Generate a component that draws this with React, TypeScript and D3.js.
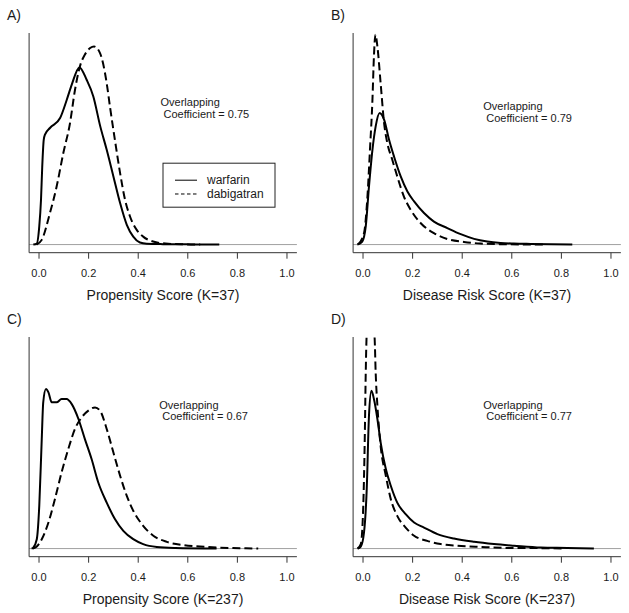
import React from 'react';
import * as d3 from 'd3';

type Pt = [number, number];

const xTicks = [0, 0.2, 0.4, 0.6, 0.8, 1.0];
const seriesNames = ['warfarin', 'dabigatran'];

// Panel A: Propensity Score (K=37)
const psK37Warfarin: Pt[] = [
  [-0.023, 0], [-0.009, 0.05], [0.001, 0.89], [0.008, 2.2], [0.013, 3.84], [0.019, 5.15],
  [0.024, 5.4], [0.044, 5.73], [0.085, 6.22], [0.112, 7.12], [0.132, 7.86], [0.163, 8.71],
  [0.192, 8.1], [0.219, 7.28], [0.247, 5.81], [0.273, 4.66], [0.3, 3.35], [0.327, 2.04],
  [0.354, 0.97], [0.38, 0.39], [0.407, 0.1], [0.434, 0.04], [0.5, 0.02], [0.6, 0.01], [0.727, 0],
];
const psK37Dabigatran: Pt[] = [
  [-0.01, 0], [0.011, 0.23], [0.044, 1.55], [0.071, 2.85], [0.098, 4.5], [0.125, 5.97],
  [0.145, 7.6], [0.165, 8.76], [0.185, 9.34], [0.206, 9.66], [0.222, 9.74], [0.246, 9.41],
  [0.273, 7.93], [0.286, 6.79], [0.306, 5.15], [0.327, 3.51], [0.347, 2.2], [0.367, 1.38],
  [0.394, 0.72], [0.42, 0.39], [0.46, 0.15], [0.51, 0.05], [0.59, 0.01], [0.65, 0],
];

// Panel B: Disease Risk Score (K=37)
const drsK37Warfarin: Pt[] = [
  [-0.023, 0], [-0.003, 0.15], [0.011, 0.89], [0.024, 2.85], [0.038, 4.66], [0.051, 5.81],
  [0.067, 6.47], [0.085, 6.14], [0.105, 5.15], [0.125, 4.33], [0.152, 3.35], [0.179, 2.61],
  [0.206, 2.12], [0.246, 1.55], [0.286, 1.13], [0.34, 0.81], [0.394, 0.51], [0.448, 0.28],
  [0.501, 0.15], [0.555, 0.08], [0.608, 0.05], [0.676, 0.03], [0.844, 0],
];
const drsK37Dabigatran: Pt[] = [
  [-0.02, 0], [0.004, 0.56], [0.017, 2.2], [0.028, 4.66], [0.038, 7.12], [0.044, 9.25],
  [0.05, 10.32], [0.058, 9.74], [0.071, 7.94], [0.085, 5.97], [0.098, 4.99], [0.118, 4.17],
  [0.138, 3.35], [0.165, 2.36], [0.192, 1.71], [0.233, 1.05], [0.286, 0.56], [0.34, 0.27],
  [0.407, 0.13], [0.474, 0.05], [0.555, 0.02], [0.73, 0],
];

// Panel C: Propensity Score (K=237)
const psK237Warfarin: Pt[] = [
  [-0.03, 0], [-0.023, 0.05], [-0.009, 0.46], [0.001, 2.1], [0.011, 5.38], [0.017, 7.19],
  [0.028, 7.84], [0.038, 7.68], [0.051, 7.19], [0.071, 7.19], [0.091, 7.35], [0.111, 7.35],
  [0.132, 7.1], [0.159, 6.37], [0.185, 5.38], [0.212, 4.4], [0.239, 3.25], [0.273, 2.26],
  [0.306, 1.45], [0.34, 0.87], [0.38, 0.46], [0.42, 0.22], [0.475, 0.08], [0.55, 0.03], [0.716, 0],
];
const psK237Dabigatran: Pt[] = [
  [-0.025, 0], [-0.009, 0.1], [0.011, 0.46], [0.038, 1.28], [0.064, 2.43], [0.091, 3.74],
  [0.118, 4.89], [0.145, 5.88], [0.172, 6.45], [0.199, 6.78], [0.226, 6.94], [0.246, 6.78],
  [0.273, 5.88], [0.3, 4.72], [0.327, 3.58], [0.354, 2.59], [0.38, 1.86], [0.42, 1.12],
  [0.461, 0.63], [0.515, 0.33], [0.583, 0.17], [0.649, 0.1], [0.717, 0.05], [0.81, 0.02], [0.884, 0],
];

// Panel D: Disease Risk Score (K=237)
const drsK237Warfarin: Pt[] = [
  [-0.022, 0], [-0.009, 0.1], [0.004, 0.79], [0.015, 2.92], [0.024, 6.53], [0.034, 7.76],
  [0.044, 7.35], [0.058, 6.37], [0.071, 5.22], [0.092, 3.91], [0.112, 3.09], [0.138, 2.26],
  [0.172, 1.69], [0.206, 1.28], [0.246, 1.03], [0.3, 0.71], [0.367, 0.49], [0.448, 0.33],
  [0.528, 0.22], [0.609, 0.14], [0.717, 0.05], [0.824, 0.03], [0.931, 0],
];
const drsK237Dabigatran: Pt[] = [
  [-0.022, 0], [-0.009, 0.22], [0.001, 2.1], [0.007, 5.38], [0.011, 8.66], [0.015, 10.6],
  [0.024, 11.6], [0.038, 11.4], [0.047, 10.3], [0.051, 8.66], [0.058, 7.02], [0.071, 5.05],
  [0.092, 3.58], [0.112, 2.43], [0.138, 1.61], [0.172, 1.03], [0.206, 0.63], [0.259, 0.38],
  [0.313, 0.22], [0.38, 0.14], [0.475, 0.08], [0.582, 0.03], [0.717, 0.02], [0.81, 0],
];

const panelLabels = ['A)', 'B)', 'C)', 'D)'];
const axisTitles = [
  'Propensity Score (K=37)',
  'Disease Risk Score (K=37)',
  'Propensity Score (K=237)',
  'Disease Risk Score (K=237)',
];
const overlapCoefs = [0.75, 0.79, 0.67, 0.77];
// annotation anchor in data coordinates (x, density)
const noteX = [0.49, 0.485, 0.485, 0.485];
const noteY = [6.99, 6.79, 7.07, 7.07];

const warfarinSeries = [psK37Warfarin, drsK37Warfarin, psK237Warfarin, drsK237Warfarin];
const dabigatranSeries = [psK37Dabigatran, drsK37Dabigatran, psK237Dabigatran, drsK237Dabigatran];

const YMAX = 10;
const FONT = "'Liberation Sans', Arial, Helvetica, sans-serif";
const INK = '#1a1a1a';

function Panel({ idx, ox, oy }: { idx: number; ox: number; oy: number }) {
  const x = d3.scaleLinear().domain([-0.04, 1.04]).range([29.1, 296.9]);
  const y = d3.scaleLinear().domain([-0.04 * YMAX, 1.04 * YMAX]).range([252.7, 33]);
  const line = d3
    .line<Pt>()
    .x((d) => x(d[0]))
    .y((d) => y(d[1]))
    .curve(d3.curveMonotoneX);
  const fmt = d3.format('.1f');
  const clipId = `clip-${idx}`;
  const [x0, x1] = x.range();
  const [yb, yt] = y.range();
  const nx = x(noteX[idx]);
  const ny = y(noteY[idx]);
  return (
    <g transform={`translate(${ox},${oy})`}>
      <defs>
        <clipPath id={clipId}>
          <rect x={x0} y={yt} width={x1 - x0} height={yb - yt} />
        </clipPath>
      </defs>
      <text x={7} y={20} fontSize={14} fontFamily={FONT} fill={INK}>
        {panelLabels[idx]}
      </text>
      {/* zero line */}
      <line x1={x0} x2={x1} y1={y(0)} y2={y(0)} stroke="#a0a0a0" strokeWidth={1} />
      {/* L-shaped box */}
      <path d={`M${x0},${yt}V${yb}H${x1}`} fill="none" stroke="#333" strokeWidth={1} />
      {xTicks.map((t) => (
        <g key={t}>
          <line x1={x(t)} x2={x(t)} y1={yb} y2={yb + 6} stroke="#333" strokeWidth={1} />
          <text
            x={x(t)}
            y={277}
            textAnchor="middle"
            fontSize={11}
            fontFamily={FONT}
            fill={INK}
          >
            {fmt(t)}
          </text>
        </g>
      ))}
      <text x={163} y={300} textAnchor="middle" fontSize={14} fontFamily={FONT} fill={INK}>
        {axisTitles[idx]}
      </text>
      <g clipPath={`url(#${clipId})`}>
        <path
          d={line(warfarinSeries[idx]) || ''}
          fill="none"
          stroke="#000"
          strokeWidth={2}
          strokeLinejoin="round"
        />
        <path
          d={line(dabigatranSeries[idx]) || ''}
          fill="none"
          stroke="#000"
          strokeWidth={2}
          strokeDasharray="8,4"
        />
      </g>
      <text x={nx} y={ny + 4} fontSize={11} fontFamily={FONT} fill={INK}>
        Overlapping
      </text>
      <text x={nx + 3} y={ny + 15.6} fontSize={11} fontFamily={FONT} fill={INK}>
        {`Coefficient = ${overlapCoefs[idx].toFixed(2)}`}
      </text>
      {idx === 0 && (
        <g>
          <rect
            x={x(0.5)}
            y={y(4)}
            width={112}
            height={44}
            fill="none"
            stroke="#222"
            strokeWidth={1}
          />
          {seriesNames.map((name, i) => (
            <g key={name}>
              <line
                x1={x(0.5) + 12}
                x2={x(0.5) + 34}
                y1={y(4) + 17 + i * 13.8}
                y2={y(4) + 17 + i * 13.8}
                stroke="#000"
                strokeWidth={1}
                strokeDasharray={i === 1 ? '3.5,2.5' : undefined}
              />
              <text
                x={x(0.5) + 44}
                y={y(4) + 21.2 + i * 13.8}
                fontSize={12}
                fontFamily={FONT}
                fill={INK}
              >
                {name}
              </text>
            </g>
          ))}
        </g>
      )}
    </g>
  );
}

export default function App() {
  const offsets: [number, number][] = [
    [0, 0],
    [324, 0],
    [0, 304],
    [324, 304],
  ];
  return (
    <svg
      width={629}
      height={613}
      style={{ position: 'absolute', left: 0, top: 0, background: '#fff' }}
    >
      <rect width={629} height={613} fill="#fff" />
      {offsets.map(([ox, oy], i) => (
        <Panel key={i} idx={i} ox={ox} oy={oy} />
      ))}
    </svg>
  );
}
